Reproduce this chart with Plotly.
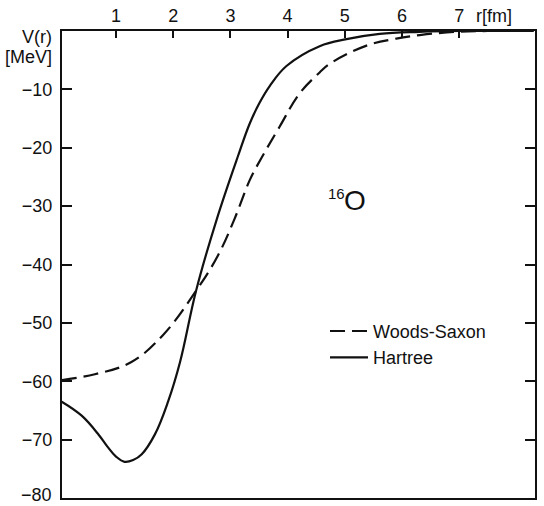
import plotly.graph_objects as go

# Data
r_hartree = [0.05, 0.4, 0.7, 0.85, 1.0, 1.15, 1.3, 1.45, 1.68, 1.91, 2.12, 2.4, 2.76,
             3.13, 3.34, 3.51, 3.69, 3.98, 4.56, 5.03, 5.61, 6.3, 7.0, 8.3]
v_hartree = [-63.5, -65.9, -69.2, -71.2, -72.9, -73.8, -73.5, -72.5, -69.1, -63.5, -56.7, -44.5, -32.3,
             -21.5, -15.8, -12.3, -9.4, -6.0, -2.6, -1.4, -0.5, -0.15, 0.0, 0.0]

r_ws = [0.05, 0.63, 1.27, 1.82, 2.4, 2.78, 3.08, 3.34, 3.54, 3.86, 4.21, 4.56, 4.74,
        5.38, 5.90, 6.31, 6.78, 7.5, 8.3]
v_ws = [-59.8, -58.8, -56.7, -52.1, -44.5, -38.5, -32.0, -25.5, -21.8, -16.4, -10.7, -7.1, -5.6,
        -2.5, -1.3, -0.7, -0.25, 0.0, 0.0]

x_ticks = [1, 2, 3, 4, 5, 6, 7]
y_ticks = [-10, -20, -30, -40, -50, -60, -70, -80]
y_ticktext = ["\u221210", "\u221220", "\u221230", "\u221240", "\u221250", "\u221260", "\u221270", "\u221280"]

FONT = "Liberation Sans"
INK = "#111111"

fig = go.Figure()
fig.add_trace(go.Scatter(x=r_ws, y=v_ws, mode="lines", name="Woods-Saxon",
                         line=dict(color=INK, width=2.2, dash="15px,7px", shape="spline", smoothing=1.1)))
fig.add_trace(go.Scatter(x=r_hartree, y=v_hartree, mode="lines", name="Hartree",
                         line=dict(color=INK, width=2.2, shape="spline", smoothing=1.1)))

fig.update_layout(
    width=544, height=506,
    margin=dict(l=62, r=9, t=31, b=6),
    paper_bgcolor="white", plot_bgcolor="white",
    font=dict(family=FONT, size=18, color=INK),
    showlegend=True,
    legend=dict(x=(325 - 62) / 473, y=1 - (314 - 31) / 469, xanchor="left", yanchor="top",
                bgcolor="rgba(0,0,0,0)", borderwidth=0, itemwidth=38,
                font=dict(family=FONT, size=18, color=INK), tracegroupgap=0),
    xaxis=dict(range=[0.056, 8.325], side="top", tickvals=x_ticks,
               ticks="inside", ticklen=7, tickwidth=2, tickcolor=INK,
               showline=True, linewidth=2, linecolor=INK, mirror=True,
               showgrid=False, zeroline=False,
               tickfont=dict(family=FONT, size=18, color=INK)),
    yaxis=dict(range=[-80, 0], tickvals=y_ticks[:-1], ticktext=y_ticktext[:-1],
               ticks="inside", ticklen=10, tickwidth=2, tickcolor=INK,
               showline=True, linewidth=2, linecolor=INK, mirror="ticks",
               showgrid=False, zeroline=False, ticklabelstandoff=4,
               tickfont=dict(family=FONT, size=18, color=INK)),
)

# bottom tick label (-80) sits at the lower edge of the plot, drawn as text
fig.add_annotation(text=y_ticktext[-1], xref="paper", yref="y", x=(54 - 62) / 473, y=y_ticks[-1],
                   xanchor="right", yanchor="middle", yshift=3, showarrow=False,
                   font=dict(family=FONT, size=18, color=INK))
fig.add_annotation(text="r[fm]", xref="paper", yref="paper", x=(474 - 62) / 473, y=1 + (31 - 16) / 469,
                   xanchor="left", yanchor="middle", showarrow=False,
                   font=dict(family=FONT, size=18, color=INK))
fig.add_annotation(text="V(r)", xref="paper", yref="paper", x=(54 - 62) / 473, y=1 - (37 - 31) / 469,
                   xanchor="right", yanchor="middle", showarrow=False,
                   font=dict(family=FONT, size=18, color=INK))
fig.add_annotation(text="[MeV]", xref="paper", yref="paper", x=(54 - 62) / 473, y=1 - (57 - 31) / 469,
                   xanchor="right", yanchor="middle", showarrow=False,
                   font=dict(family=FONT, size=18, color=INK))
fig.add_annotation(text="16", xref="paper", yref="paper", x=(326 - 62) / 473, y=1 - (194 - 31) / 469,
                   xanchor="left", yanchor="middle", showarrow=False,
                   font=dict(family=FONT, size=15, color=INK))
fig.add_annotation(text="O", xref="paper", yref="paper", x=(342 - 62) / 473, y=1 - (201 - 31) / 469,
                   xanchor="left", yanchor="middle", showarrow=False,
                   font=dict(family=FONT, size=28, color=INK))

fig.write_html("out.html")
